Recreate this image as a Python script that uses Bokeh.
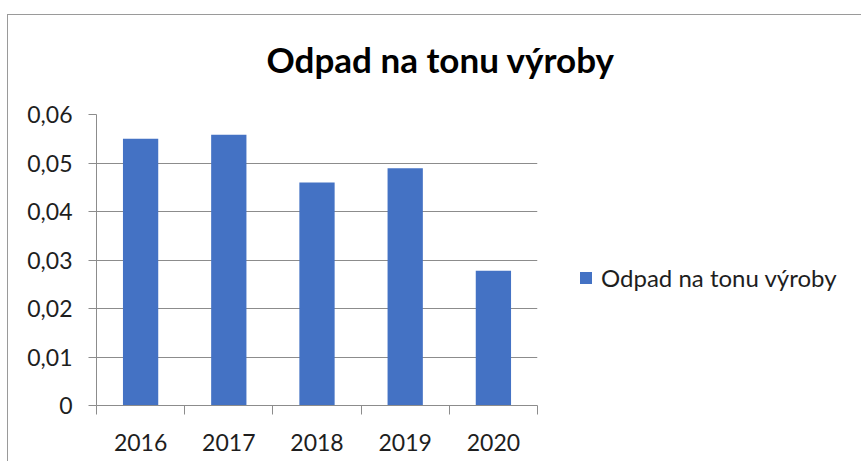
from bokeh.plotting import figure
from bokeh.models import (Range1d, FixedTicker, LinearAxis, Legend, LegendItem, Title,
                          ColumnDataSource)
from bokeh.embed import file_html
from bokeh.resources import INLINE

# ---- data ----
years = ["2016", "2017", "2018", "2019", "2020"]
values = [0.0550, 0.0558, 0.0460, 0.0489, 0.0278]
y_ticks = [0.0, 0.01, 0.02, 0.03, 0.04, 0.05, 0.06]
y_tick_labels = ["0", "0,01", "0,02", "0,03", "0,04", "0,05", "0,06"]
series_name = "Odpad na tonu výroby"
title_text = "Odpad na tonu výroby"

FONT = "Lato"
TXT = "#1e1e1e"
GRID = "#8c8c8c"
BAR = "#4472C4"
FRAME = "#9a9a9a"

centers = [i + 0.5 for i in range(len(years))]
bounds = list(range(len(years) + 1))
src = ColumnDataSource(dict(x=centers, top=values, year=years))

p = figure(frame_width=441, frame_height=291, output_backend="svg", toolbar_location=None,
           x_range=Range1d(0, len(years)), y_range=Range1d(y_ticks[0], y_ticks[-1]),
           x_axis_location=None, y_axis_location=None,
           min_border_left=96, min_border_right=324, min_border_top=113, min_border_bottom=57,
           background_fill_color="white", border_fill_color=None)
p.outline_line_color = None
# thin chart-area border (left and top edges) painted behind the transparent canvas border
p.styles = {"background": (f"linear-gradient({FRAME},{FRAME}) 7px 14px / 1px 100% no-repeat, "
                           f"linear-gradient({FRAME},{FRAME}) 7px 14px / 100% 1px no-repeat, white")}

bars = p.vbar(x="x", top="top", width=0.4, bottom=0, source=src,
              fill_color=BAR, line_color=None)

# y axis
yax = LinearAxis(ticker=FixedTicker(ticks=y_ticks, minor_ticks=[]))
yax.major_label_overrides = {t: l for t, l in zip(y_ticks, y_tick_labels)}
yax.axis_line_color = GRID
yax.major_tick_line_color = GRID
yax.major_tick_out = 8
yax.major_tick_in = 0
yax.major_label_standoff = 16
yax.major_label_text_font = FONT
yax.major_label_text_font_size = "23px"
yax.major_label_text_color = TXT
p.add_layout(yax, "left")

# x axis: labels at centres, tick marks at category boundaries
xax = LinearAxis(ticker=FixedTicker(ticks=centers, minor_ticks=bounds))
xax.major_label_overrides = {c: y for c, y in zip(centers, years)}
xax.axis_line_color = GRID
xax.major_tick_line_color = None
xax.major_tick_out = 0
xax.major_tick_in = 0
xax.minor_tick_line_color = GRID
xax.minor_tick_out = 9
xax.minor_tick_in = 0
xax.major_label_standoff = 19
xax.major_label_text_font = FONT
xax.major_label_text_font_size = "23px"
xax.major_label_text_color = TXT
p.add_layout(xax, "below")

p.ygrid.ticker = FixedTicker(ticks=y_ticks)
p.ygrid.grid_line_color = GRID
p.xgrid.grid_line_color = None

p.title = Title(text=title_text, align="left", offset=170, standoff=70, text_font=FONT,
                text_font_style="bold", text_font_size="35px", text_color="black")

legend = Legend(items=[LegendItem(label=series_name, renderers=[bars])],
                location=(41, 113), padding=0, margin=0, border_line_color=None,
                background_fill_alpha=0, glyph_width=15, glyph_height=15,
                label_height=26, label_standoff=8,
                label_text_font=FONT, label_text_font_size="24px", label_text_color=TXT)
p.add_layout(legend, "right")

open("out.html", "w").write(file_html(p, INLINE))
